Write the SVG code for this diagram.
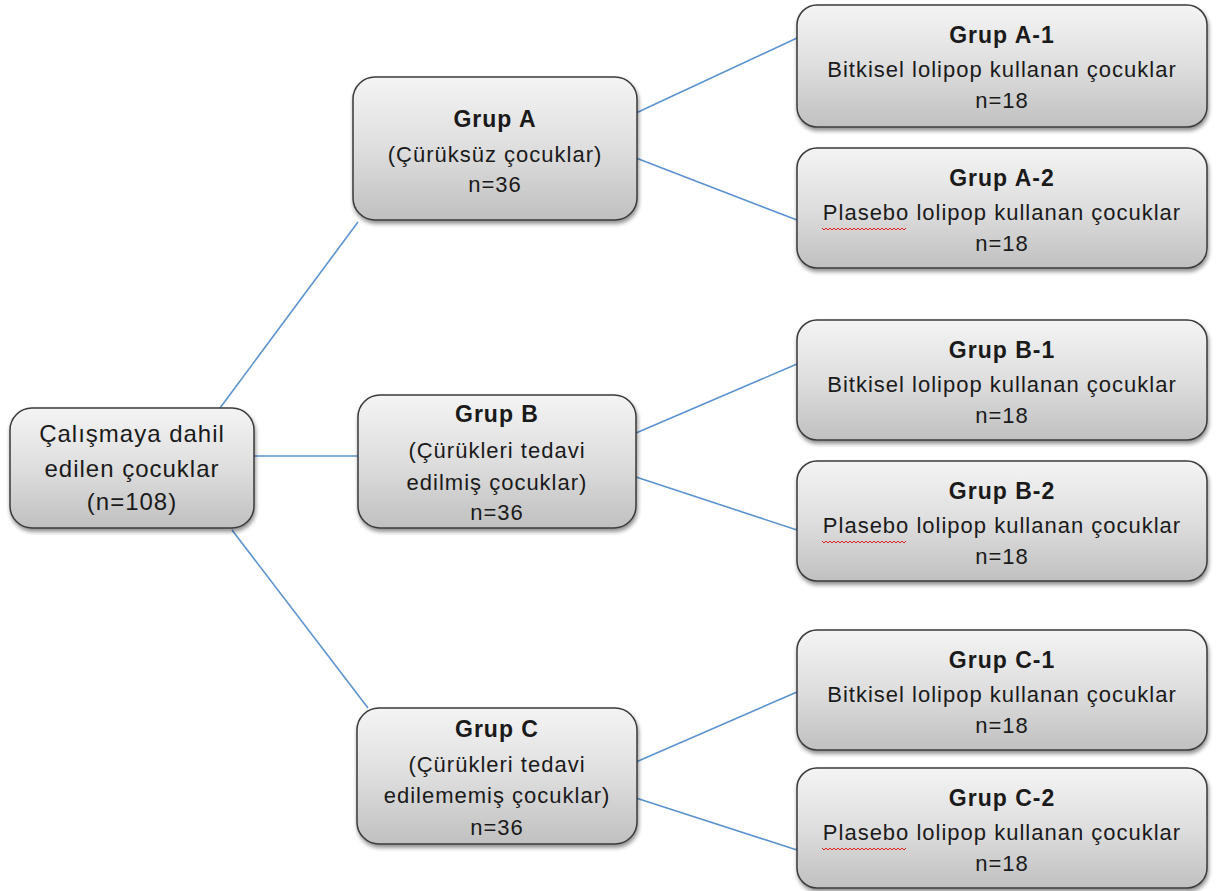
<svg xmlns="http://www.w3.org/2000/svg" width="1219" height="891" viewBox="0 0 1219 891">
<style>
  .box { fill: url(#g); stroke: #3a3a3a; stroke-width: 1.5; filter: url(#sh); }
  .t { font-family: "Liberation Sans", Arial, sans-serif; font-size: 22px; fill: #1a1a1a; text-anchor: middle; letter-spacing: 1px; }
  .b { font-weight: bold; font-size: 23px; letter-spacing: 1px; }
  .r { font-size: 24px; }
  .conn line { stroke: #5b93d0; stroke-width: 1.6; }
  .sq { fill: none; stroke: #e02020; stroke-width: 1; }
</style>
<defs>
  <linearGradient id="g" x1="0" y1="0" x2="0" y2="1">
    <stop offset="0" stop-color="#f4f4f4"/>
    <stop offset="0.5" stop-color="#dedede"/>
    <stop offset="1" stop-color="#c0c0c0"/>
  </linearGradient>
  <filter id="sh" x="-10%" y="-10%" width="125%" height="130%">
    <feGaussianBlur in="SourceAlpha" stdDeviation="2"/>
    <feOffset dx="1" dy="3" result="o"/>
    <feComponentTransfer><feFuncA type="linear" slope="0.45"/></feComponentTransfer>
    <feMerge><feMergeNode/><feMergeNode in="SourceGraphic"/></feMerge>
  </filter>
</defs>
<rect width="1219" height="891" fill="#ffffff"/>
<g class="conn" id="connectors">
  <line x1="220" y1="408" x2="358" y2="222"/>
  <line x1="254" y1="456" x2="358" y2="456"/>
  <line x1="232" y1="530" x2="368" y2="708"/>
  <line x1="636" y1="113" x2="797" y2="38"/>
  <line x1="636" y1="158" x2="797" y2="220"/>
  <line x1="636" y1="433" x2="797" y2="364"/>
  <line x1="636" y1="477" x2="797" y2="530"/>
  <line x1="636" y1="762" x2="797" y2="692"/>
  <line x1="636" y1="798" x2="797" y2="850"/>
</g>
<g id="root">
  <rect class="box" x="10" y="408" width="244" height="120" rx="22"/>
  <text class="t r" x="132" y="442">Çalışmaya dahil</text>
  <text class="t r" x="132" y="477">edilen çocuklar</text>
  <text class="t r" x="132" y="510">(n=108)</text>
</g>
<g id="grupA">
  <rect class="box" x="353" y="77" width="284" height="143" rx="22"/>
  <text class="t b" x="495" y="127">Grup A</text>
  <text class="t" x="495" y="162">(Çürüksüz çocuklar)</text>
  <text class="t" x="495" y="192">n=36</text>
</g>
<g id="grupB">
  <rect class="box" x="358" y="395" width="278" height="133" rx="22"/>
  <text class="t b" x="497" y="422">Grup B</text>
  <text class="t" x="497" y="458">(Çürükleri tedavi</text>
  <text class="t" x="497" y="490">edilmiş çocuklar)</text>
  <text class="t" x="497" y="520">n=36</text>
</g>
<g id="grupC">
  <rect class="box" x="357" y="708" width="280" height="136" rx="22"/>
  <text class="t b" x="497" y="737">Grup C</text>
  <text class="t" x="497" y="772">(Çürükleri tedavi</text>
  <text class="t" x="497" y="803">edilememiş çocuklar)</text>
  <text class="t" x="497" y="835">n=36</text>
</g>
<g id="grupA1">
  <rect class="box" x="797" y="5" width="410" height="122" rx="20"/>
  <text class="t b" x="1002" y="43">Grup A-1</text>
  <text class="t" x="1002" y="77">Bitkisel lolipop kullanan çocuklar</text>
  <text class="t" x="1002" y="108">n=18</text>
</g>
<g id="grupA2">
  <rect class="box" x="797" y="148" width="410" height="120" rx="20"/>
  <text class="t b" x="1002" y="186">Grup A-2</text>
  <text class="t" x="1002" y="220">Plasebo lolipop kullanan çocuklar</text>
  <text class="t" x="1002" y="251">n=18</text>
  <path class="sq" d="M822 228 l2 2 l2 -2 l2 2 l2 -2 l2 2 l2 -2 l2 2 l2 -2 l2 2 l2 -2 l2 2 l2 -2 l2 2 l2 -2 l2 2 l2 -2 l2 2 l2 -2 l2 2 l2 -2 l2 2 l2 -2 l2 2 l2 -2 l2 2 l2 -2 l2 2 l2 -2 l2 2 l2 -2 l2 2 l2 -2 l2 2 l2 -2 l2 2 l2 -2 l2 2 l2 -2 l2 2 l2 -2 l2 2 l2 -2"/>
</g>
<g id="grupB1">
  <rect class="box" x="797" y="320" width="410" height="120" rx="20"/>
  <text class="t b" x="1002" y="358">Grup B-1</text>
  <text class="t" x="1002" y="392">Bitkisel lolipop kullanan çocuklar</text>
  <text class="t" x="1002" y="423">n=18</text>
</g>
<g id="grupB2">
  <rect class="box" x="797" y="461" width="410" height="120" rx="20"/>
  <text class="t b" x="1002" y="499">Grup B-2</text>
  <text class="t" x="1002" y="533">Plasebo lolipop kullanan çocuklar</text>
  <text class="t" x="1002" y="564">n=18</text>
  <path class="sq" d="M822 541 l2 2 l2 -2 l2 2 l2 -2 l2 2 l2 -2 l2 2 l2 -2 l2 2 l2 -2 l2 2 l2 -2 l2 2 l2 -2 l2 2 l2 -2 l2 2 l2 -2 l2 2 l2 -2 l2 2 l2 -2 l2 2 l2 -2 l2 2 l2 -2 l2 2 l2 -2 l2 2 l2 -2 l2 2 l2 -2 l2 2 l2 -2 l2 2 l2 -2 l2 2 l2 -2 l2 2 l2 -2 l2 2 l2 -2"/>
</g>
<g id="grupC1">
  <rect class="box" x="797" y="630" width="410" height="120" rx="20"/>
  <text class="t b" x="1002" y="668">Grup C-1</text>
  <text class="t" x="1002" y="702">Bitkisel lolipop kullanan çocuklar</text>
  <text class="t" x="1002" y="733">n=18</text>
</g>
<g id="grupC2">
  <rect class="box" x="797" y="768" width="410" height="120" rx="20"/>
  <text class="t b" x="1002" y="806">Grup C-2</text>
  <text class="t" x="1002" y="840">Plasebo lolipop kullanan çocuklar</text>
  <text class="t" x="1002" y="871">n=18</text>
  <path class="sq" d="M822 848 l2 2 l2 -2 l2 2 l2 -2 l2 2 l2 -2 l2 2 l2 -2 l2 2 l2 -2 l2 2 l2 -2 l2 2 l2 -2 l2 2 l2 -2 l2 2 l2 -2 l2 2 l2 -2 l2 2 l2 -2 l2 2 l2 -2 l2 2 l2 -2 l2 2 l2 -2 l2 2 l2 -2 l2 2 l2 -2 l2 2 l2 -2 l2 2 l2 -2 l2 2 l2 -2 l2 2 l2 -2 l2 2 l2 -2"/>
</g>
</svg>
